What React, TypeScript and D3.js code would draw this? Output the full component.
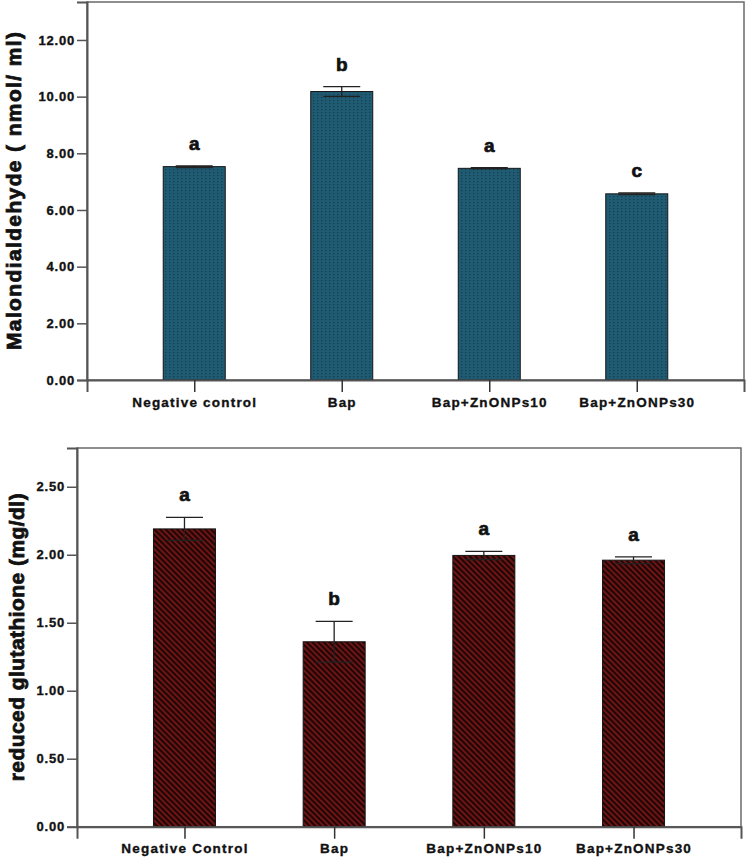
import React, { useRef, useEffect } from "react";
import * as d3 from "d3";

// Data
const groupsTop = ["Negative control", "Bap", "Bap+ZnONPs10", "Bap+ZnONPs30"];
const mdaMean = [7.53, 10.18, 7.47, 6.57];
const mdaSe = [0.03, 0.17, 0.02, 0.03];
const mdaLetters = ["a", "b", "a", "c"];
const mdaTicks = [0, 2, 4, 6, 8, 10, 12];

const groupsBottom = ["Negative Control", "Bap", "Bap+ZnONPs10", "Bap+ZnONPs30"];
const gshMean = [2.19, 1.36, 1.995, 1.96];
const gshSe = [0.085, 0.15, 0.03, 0.025];
const gshLetters = ["a", "b", "a", "a"];
const gshTicks = [0, 0.5, 1, 1.5, 2, 2.5];

const FONT = "'Liberation Sans', Arial, sans-serif";

interface PanelProps {
  svg: d3.Selection<SVGSVGElement, unknown, null, undefined>;
  groups: string[];
  mean: number[];
  se: number[];
  letters: string[];
  ticks: number[];
  yMax: number;
  box: { left: number; right: number; top: number; bottom: number };
  yTitle: string;
  yTitleLength: number;
  yTitleX: number;
  fill: string;
  padding: number;
}

function drawPanel(p: PanelProps) {
  const { svg, box } = p;
  const g = svg.append("g");

  const x = d3
    .scalePoint<string>()
    .domain(p.groups)
    .range([box.left, box.right])
    .padding(p.padding);
  const y = d3.scaleLinear().domain([0, p.yMax]).range([box.bottom, box.top]);
  const barW = 62;
  const capW = 37;

  // frame
  g.append("rect")
    .attr("x", box.left)
    .attr("y", box.top)
    .attr("width", box.right - box.left)
    .attr("height", box.bottom - box.top)
    .attr("fill", "white")
    .attr("stroke", "#6a6a6a")
    .attr("stroke-width", 1.5);

  // bars
  p.groups.forEach((grp, i) => {
    const cx = x(grp)!;
    g.append("rect")
      .attr("x", cx - barW / 2)
      .attr("y", y(p.mean[i]))
      .attr("width", barW)
      .attr("height", y(0) - y(p.mean[i]))
      .attr("fill", p.fill)
      .attr("stroke", "#151515")
      .attr("stroke-width", 1);

    const hi = y(p.mean[i] + p.se[i]);
    const lo = y(p.mean[i] - p.se[i]);
    const eb = g.append("g").attr("stroke", "#222").attr("stroke-width", 1.3);
    eb.append("line").attr("x1", cx).attr("x2", cx).attr("y1", hi).attr("y2", lo);
    eb.append("line").attr("x1", cx - capW / 2).attr("x2", cx + capW / 2).attr("y1", hi).attr("y2", hi);
    eb.append("line").attr("x1", cx - capW / 2).attr("x2", cx + capW / 2).attr("y1", lo).attr("y2", lo);

    g.append("text")
      .attr("x", cx)
      .attr("y", hi - 16)
      .attr("text-anchor", "middle")
      .attr("font-family", FONT)
      .attr("font-weight", "bold")
      .attr("font-size", 19)
      .attr("stroke", "#111")
      .attr("stroke-width", 0.7)
      .attr("fill", "#111")
      .text(p.letters[i]);
  });

  // y axis
  const yAxis = g
    .append("g")
    .attr("transform", `translate(${box.left},0)`)
    .call(
      d3
        .axisLeft(y)
        .tickValues(p.ticks)
        .tickFormat(d3.format(".2f"))
        .tickSize(10)
        .tickPadding(2)
    );
  yAxis.select(".domain").attr("stroke", "#555").attr("stroke-width", 2);
  yAxis.selectAll(".tick line").attr("stroke", "#555").attr("stroke-width", 1.5);
  yAxis
    .selectAll("text")
    .attr("font-family", FONT)
    .attr("font-weight", "bold")
    .attr("font-size", 13)
    .attr("letter-spacing", 0.8)
    .attr("stroke", "#111")
    .attr("stroke-width", 0.35)
    .attr("fill", "#111");

  // x axis
  const xAxis = g
    .append("g")
    .attr("transform", `translate(0,${box.bottom})`)
    .call(d3.axisBottom(x).tickSize(12).tickPadding(5));
  xAxis.select(".domain").attr("stroke", "#555").attr("stroke-width", 2);
  xAxis.selectAll(".tick line").attr("stroke", "#333").attr("stroke-width", 1.5);
  xAxis
    .selectAll("text")
    .attr("font-family", FONT)
    .attr("font-weight", "bold")
    .attr("font-size", 13.5)
    .attr("letter-spacing", 1.2)
    .attr("stroke", "#111")
    .attr("stroke-width", 0.35)
    .attr("fill", "#111");

  // y title
  g.append("text")
    .attr("transform", `translate(${p.yTitleX},${(box.top + box.bottom) / 2}) rotate(-90)`)
    .attr("text-anchor", "middle")
    .attr("font-family", FONT)
    .attr("font-weight", "bold")
    .attr("font-size", 21)
    .attr("textLength", p.yTitleLength)
    .attr("stroke", "#111")
    .attr("stroke-width", 0.8)
    .attr("fill", "#111")
    .text(p.yTitle);
}

const App: React.FC = () => {
  const svgRef = useRef<SVGSVGElement | null>(null);

  useEffect(() => {
    if (!svgRef.current) return;
    const svg = d3.select(svgRef.current);
    svg.selectAll("*").remove();

    const defs = svg.append("defs");

    // dotted teal fill
    const dots = defs
      .append("pattern")
      .attr("id", "dots")
      .attr("patternUnits", "userSpaceOnUse")
      .attr("width", 4)
      .attr("height", 3);
    dots.append("rect").attr("width", 4).attr("height", 3).attr("fill", "#1f5c74");
    dots.append("rect").attr("x", 1).attr("y", 1).attr("width", 1.4).attr("height", 1.2).attr("fill", "#143f52");

    // diagonal hatch fill
    const hatch = defs
      .append("pattern")
      .attr("id", "hatch")
      .attr("patternUnits", "userSpaceOnUse")
      .attr("width", 4)
      .attr("height", 4)
      .attr("patternTransform", "rotate(-45)");
    hatch.append("rect").attr("width", 4).attr("height", 4).attr("fill", "#220606");
    hatch.append("rect").attr("width", 1.6).attr("height", 4).attr("fill", "#7e1818");

    drawPanel({
      svg,
      groups: groupsTop,
      mean: mdaMean,
      se: mdaSe,
      letters: mdaLetters,
      ticks: mdaTicks,
      yMax: 13.34,
      box: { left: 87, right: 744, top: 2, bottom: 380 },
      yTitle: "Malondialdehyde ( nmol/ ml)",
      yTitleLength: 318,
      yTitleX: 21,
      fill: "url(#dots)",
      padding: 0.727,
    });

    drawPanel({
      svg,
      groups: groupsBottom,
      mean: gshMean,
      se: gshSe,
      letters: gshLetters,
      ticks: gshTicks,
      yMax: 2.785,
      box: { left: 77, right: 741, top: 448, bottom: 826.7 },
      yTitle: "reduced glutathione (mg/dl)",
      yTitleLength: 288,
      yTitleX: 24,
      fill: "url(#hatch)",
      padding: 0.718,
    });
  }, []);

  return (
    <svg
      ref={svgRef}
      width={746}
      height={859}
      style={{ position: "absolute", left: 0, top: 0, background: "white" }}
    />
  );
};

export default App;
